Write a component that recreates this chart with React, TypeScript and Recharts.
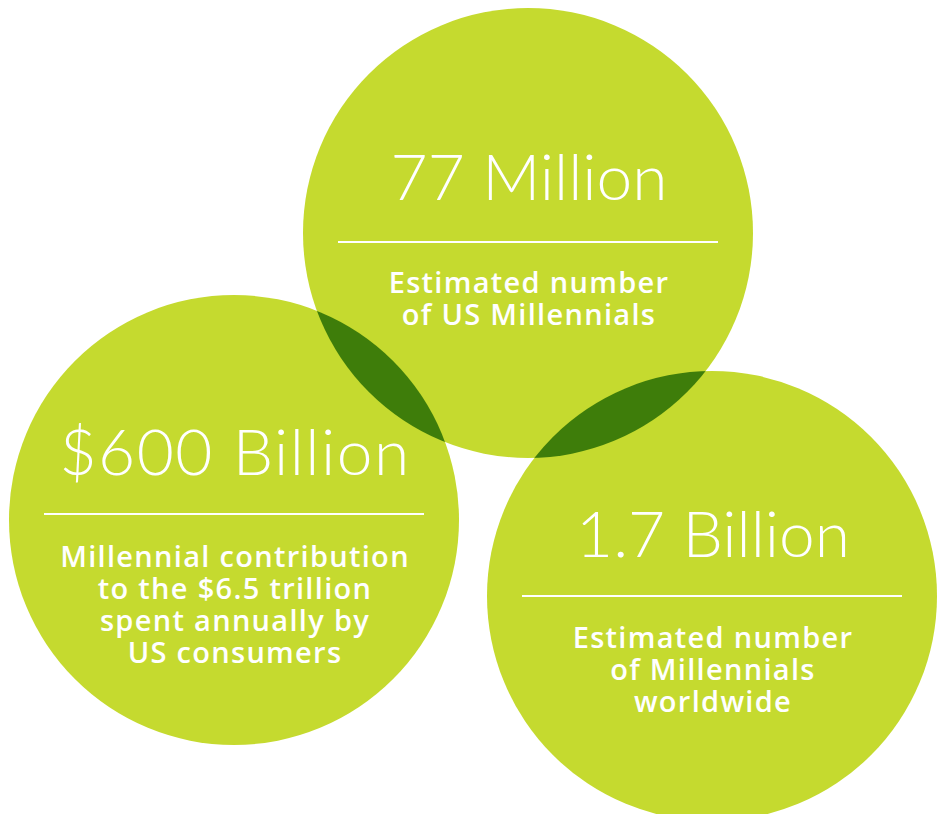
import React from "react";
import { ScatterChart, Scatter, XAxis, YAxis } from "recharts";

// ---- data ----
const values = ["77 Million", "$600 Billion", "1.7 Billion"];
const descriptions = [
  ["Estimated number", "of US Millennials"],
  ["Millennial contribution", "to the $6.5 trillion", "spent annually by", "US consumers"],
  ["Estimated number", "of Millennials", "worldwide"],
];

// ---- layout (data units = pixels) ----
const centerX = [528, 234, 712];
const centerY = [233, 520, 596];
const valueDy = [-33, -45, -39];
const ruleDy = [9, -6, 0];
const descDy = [60, 47, 52];
const overlapPairs = [
  [0, 1],
  [0, 2],
];

const W = 945;
const H = 814;
const R = 225;
const LIGHT = "#c5da2f";
const DARK = "#3e7d0a";
const WHITE = "#ffffff";

const circles = values.map((v, i) => ({ x: centerX[i], y: centerY[i], idx: i }));
const lenses = overlapPairs.map(([a, b]) => ({ x: centerX[b], y: centerY[b], clipIdx: a }));
const labels = values.map((v, i) => ({ x: centerX[i], y: centerY[i], idx: i, value: v, desc: descriptions[i] }));

const CircleShape = (props: any) => {
  const { cx, cy, payload } = props;
  return (
    <g>
      <defs>
        <clipPath id={`circle-clip-${payload.idx}`}>
          <circle cx={cx} cy={cy} r={R} />
        </clipPath>
      </defs>
      <circle cx={cx} cy={cy} r={R} fill={LIGHT} />
    </g>
  );
};

const LensShape = (props: any) => {
  const { cx, cy, payload } = props;
  return <circle cx={cx} cy={cy} r={R} fill={DARK} clipPath={`url(#circle-clip-${payload.clipIdx})`} />;
};

const LabelShape = (props: any) => {
  const { cx, cy, payload } = props;
  const i = payload.idx;
  const tx = cx + 1;
  return (
    <g>
      <text
        x={tx}
        y={cy + valueDy[i]}
        textAnchor="middle"
        fill={WHITE}
        fontFamily="Lato, sans-serif"
        fontWeight={300}
        fontSize={64}
        letterSpacing={i === 1 ? 1.5 : 0}
      >
        {payload.value}
      </text>
      <line x1={cx - 190} x2={cx + 190} y1={cy + ruleDy[i]} y2={cy + ruleDy[i]} stroke={WHITE} strokeWidth={2} />
      <text
        y={cy + descDy[i]}
        textAnchor="middle"
        fill={WHITE}
        fontFamily="'Open Sans', sans-serif"
        fontWeight={600}
        fontSize={29}
        letterSpacing={1.3}
      >
        {payload.desc.map((line: string, k: number) => (
          <tspan key={k} x={tx} dy={k === 0 ? 0 : 32}>
            {line}
          </tspan>
        ))}
      </text>
    </g>
  );
};

export default function App() {
  return (
    <div style={{ position: "absolute", left: 0, top: 0, width: W, height: H, background: "#fff" }}>
      <ScatterChart width={W} height={H} margin={{ top: 0, right: 0, bottom: 0, left: 0 }}>
        <XAxis type="number" dataKey="x" domain={[0, W]} hide />
        <YAxis type="number" dataKey="y" domain={[0, H]} reversed hide />
        <Scatter data={circles} shape={<CircleShape />} isAnimationActive={false} />
        <Scatter data={lenses} shape={<LensShape />} isAnimationActive={false} />
        <Scatter data={labels} shape={<LabelShape />} isAnimationActive={false} />
      </ScatterChart>
    </div>
  );
}
